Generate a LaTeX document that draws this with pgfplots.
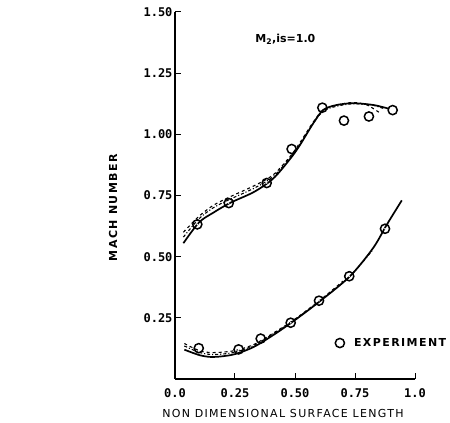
\documentclass[border=0pt]{standalone}
\usepackage{fontspec}
\setmainfont{DejaVu Sans}
\newfontfamily\lsp[LetterSpace=13]{DejaVu Sans}
\newfontfamily\lspl[LetterSpace=12]{DejaVu Sans}
\newfontfamily\tickf{DejaVu Sans Mono}
\usepackage{pgfplots}
\pgfplotsset{compat=1.18}
\pgfdeclareplotmark{cdot}{%
  \pgfpathcircle{\pgfpointorigin}{\pgfplotmarksize}\pgfusepathqstroke
  \pgfpathcircle{\pgfpointorigin}{0.9pt}\pgfusepathqfill}
\begin{document}
\begin{tikzpicture}
\useasboundingbox (-175pt,-44pt) rectangle (275pt,379pt);
\begin{axis}[
  at={(0pt,0pt)}, anchor=origin,
  scale only axis, width=240pt, height=367pt,
  xmin=0, xmax=1, ymin=0, ymax=1.5,
  axis x line=bottom, axis y line=left,
  axis line style={-, line width=1.4pt},
  tick align=inside, major tick length=6pt,
  tick style={line width=1pt, black},
  xtick={0,0.25,0.5,0.75,1},
  xticklabels={0.0,0.25,0.50,0.75,1.0},
  ytick={0.25,0.5,0.75,1,1.25,1.5},
  yticklabels={0.25,0.50,0.75,1.00,1.25,1.50},
  ticklabel style={font=\fontsize{12}{14}\selectfont\tickf\bfseries},
  xticklabel style={yshift=-6pt},
  yticklabel style={xshift=1pt},
  clip=false,
  legend style={draw=none, fill=none, at={(axis description cs:0.667,0.098)}, anchor=west,
    font=\fontsize{11}{13}\selectfont\lsp\bfseries, inner sep=0pt, nodes={inner sep=2pt}},
  legend image code/.code={\draw[#1] plot coordinates {(0cm,0cm)}; \path (0.42cm,0cm);},
]
% upper group
\addplot[smooth, line width=1.7pt, forget plot] coordinates {
(0.035,0.555)(0.10,0.64)(0.16,0.68)(0.23,0.72)(0.33,0.765)(0.41,0.82)(0.48,0.90)(0.52,0.955)(0.576,1.045)(0.618,1.10)(0.674,1.12)(0.743,1.127)(0.826,1.12)(0.89,1.105)};
\addplot[smooth, line width=1.1pt, dashed, forget plot] coordinates {
(0.035,0.60)(0.10,0.665)(0.16,0.71)(0.23,0.745)(0.33,0.79)(0.41,0.835)(0.48,0.91)(0.52,0.965)(0.576,1.05)(0.618,1.10)(0.674,1.12)(0.743,1.13)(0.80,1.12)(0.85,1.09)};
\addplot[smooth, line width=1.1pt, dash dot, forget plot] coordinates {
(0.035,0.58)(0.10,0.655)(0.16,0.70)(0.23,0.735)(0.33,0.78)(0.41,0.828)(0.48,0.905)(0.52,0.96)(0.576,1.045)(0.618,1.095)(0.674,1.115)(0.743,1.125)(0.82,1.12)(0.87,1.105)};
% lower group
\addplot[smooth, line width=1.7pt, forget plot] coordinates {
(0.039,0.12)(0.104,0.097)(0.16,0.09)(0.243,0.10)(0.326,0.13)(0.41,0.18)(0.493,0.236)(0.604,0.318)(0.729,0.42)(0.826,0.536)(0.882,0.63)(0.945,0.73)};
\addplot[smooth, line width=1.1pt, dashed, forget plot] coordinates {
(0.039,0.145)(0.104,0.115)(0.16,0.108)(0.243,0.115)(0.326,0.14)(0.41,0.188)(0.493,0.24)(0.604,0.322)(0.70,0.40)};
\addplot[smooth, line width=1.1pt, dash dot, forget plot] coordinates {
(0.039,0.135)(0.104,0.108)(0.16,0.10)(0.243,0.108)(0.326,0.136)(0.41,0.185)(0.493,0.238)(0.604,0.32)(0.729,0.42)(0.826,0.53)};
% experiment
\addplot[only marks, mark=cdot, mark size=4.6pt, mark options={fill=white, line width=1.5pt}] coordinates {
(0.093,0.632)(0.224,0.719)(0.382,0.801)(0.486,0.94)(0.614,1.109)(0.704,1.056)(0.808,1.073)(0.907,1.099)
(0.099,0.126)(0.265,0.121)(0.357,0.165)(0.482,0.23)(0.60,0.32)(0.726,0.42)(0.875,0.614)};
\addlegendentry{EXPERIMENT}
\node[font=\fontsize{11}{13}\selectfont\bfseries, anchor=west] at (axis cs:0.32,1.39) {M\textsubscript{2},is=1.0};
\node[font=\fontsize{11}{13}\selectfont\lspl, anchor=center] at (axis cs:0.45,-0.142) {NON DIMENSIONAL SURFACE LENGTH};
\node[font=\fontsize{11}{13}\selectfont\lsp\bfseries, rotate=90, anchor=center] at (axis cs:-0.258,0.70) {MACH NUMBER};
\end{axis}
\end{tikzpicture}
\end{document}
